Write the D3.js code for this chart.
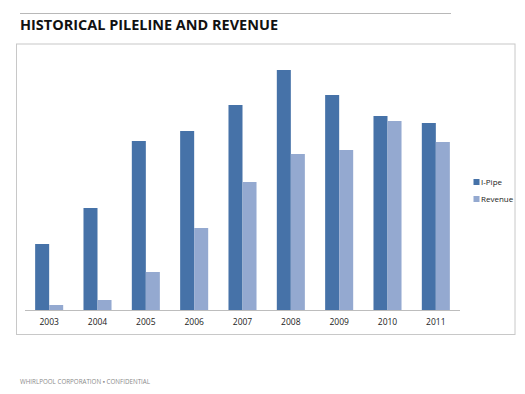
<!DOCTYPE html>
<html>
<head>
<meta charset="utf-8">
<script src="https://cdn.jsdelivr.net/npm/d3@7"></script>
<style>
  html, body { margin: 0; padding: 0; background: #ffffff; }
  svg { display: block; }
</style>
</head>
<body>
<svg id="chart" width="525" height="394"></svg>
<script>
// ---- data ----
const years = ["2003", "2004", "2005", "2006", "2007", "2008", "2009", "2010", "2011"];
const iPipe = [66, 102, 169, 179, 205, 240, 215, 194, 187];
const revenue = [5, 10, 38, 82, 128, 156, 160, 189, 168];
const seriesNames = ["I-Pipe", "Revenue"];
const seriesColors = ["#4672A8", "#94A9D0"];
const titleText = "HISTORICAL PILELINE AND REVENUE";
const footerText = "WHIRLPOOL CORPORATION \u25AA CONFIDENTIAL";

const svg = d3.select("#chart");
const font = "'Open Sans', 'Noto Sans', sans-serif";

// header rule
svg.append("line").attr("x1", 20).attr("x2", 451).attr("y1", 13.5).attr("y2", 13.5)
  .attr("stroke", "#b8b8b8").attr("stroke-width", 1.2);

// title
svg.append("text").attr("x", 20).attr("y", 29.5)
  .attr("font-family", font).attr("font-weight", "bold").attr("font-size", 14.5)
  .attr("fill", "#111").attr("textLength", 258).attr("lengthAdjust", "spacingAndGlyphs")
  .text(titleText);

// chart frame
svg.append("rect").attr("x", 16.5).attr("y", 44).attr("width", 498.5).attr("height", 290.5)
  .attr("fill", "#fff").attr("stroke", "#c8c8c8").attr("stroke-width", 1);

// scales
const x0 = d3.scaleBand().domain(years).range([25, 460]).paddingInner(0.42).paddingOuter(0.21);
const x1 = d3.scaleBand().domain(seriesNames).range([0, x0.bandwidth()]);
const y = d3.scaleLinear().domain([0, 260]).range([310, 50]);

const color = d3.scaleOrdinal().domain(seriesNames).range(seriesColors);

const rows = years.map((yr, i) => ({ year: yr, values: [
  { key: "I-Pipe", value: iPipe[i] },
  { key: "Revenue", value: revenue[i] }
]}));

const groups = svg.append("g").selectAll("g").data(rows).join("g")
  .attr("transform", d => `translate(${x0(d.year)},0)`);

groups.selectAll("rect").data(d => d.values).join("rect")
  .attr("x", d => x1(d.key))
  .attr("width", x1.bandwidth())
  .attr("y", d => y(d.value))
  .attr("height", d => y(0) - y(d.value))
  .attr("fill", d => color(d.key));

// x axis
const xAxis = svg.append("g").attr("transform", `translate(0,${y(0)})`)
  .call(d3.axisBottom(x0).tickSize(0).tickPadding(9));
xAxis.select(".domain").attr("stroke", "#bdbdbd").attr("d", "M25,0.5H460");
xAxis.selectAll("text").attr("font-family", font).attr("font-size", 8.5).attr("fill", "#222");

// legend
const legend = svg.append("g");
seriesNames.forEach((name, i) => {
  const ly = 182 + i * 17;
  legend.append("rect").attr("x", 473.5).attr("y", ly - 3).attr("width", 6).attr("height", 6)
    .attr("fill", seriesColors[i]);
  legend.append("text").attr("x", 481).attr("y", ly).attr("dy", "0.35em")
    .attr("font-family", font).attr("font-size", 8).attr("fill", "#222").text(name);
});

// footer
svg.append("text").attr("x", 20).attr("y", 384)
  .attr("font-family", font).attr("font-size", 6.5).attr("fill", "#8a8a8a")
  .attr("textLength", 130).attr("lengthAdjust", "spacingAndGlyphs")
  .text(footerText);
</script>
</body>
</html>
